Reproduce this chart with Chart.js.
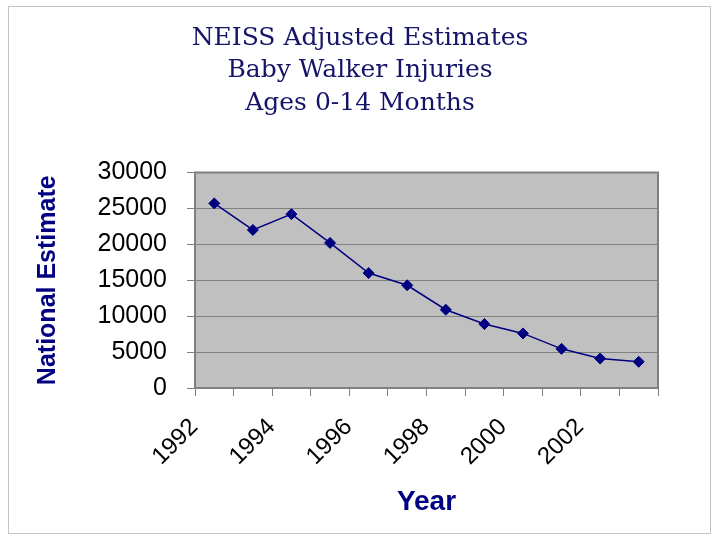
<!DOCTYPE html>
<html>
<head>
<meta charset="utf-8">
<title>Baby Walker Injuries</title>
<script src="https://cdn.jsdelivr.net/npm/chart.js@4"></script>
<style>
  body { margin: 0; background: #fff; }
  canvas { display: block; }
</style>
</head>
<body>
<canvas id="chart" width="720" height="540"></canvas>
<script>
const years = ["1992", "1993", "1994", "1995", "1996", "1997", "1998", "1999", "2000", "2001", "2002", "2003"];
const estimates = [25700, 22000, 24200, 20200, 16000, 14300, 10900, 8900, 7600, 5450, 4100, 3650];
const shownYears = ["1992", "1994", "1996", "1998", "2000", "2002"];
const titleLines = ["NEISS Adjusted Estimates", "Baby Walker Injuries", "Ages 0-14 Months"];

const navy = "#000080";
const gridGray = "#808080";

// grey plot area, its frame and the thin slide border
const plotBackground = {
  id: "plotBackground",
  beforeDraw(chart) {
    const { ctx, chartArea: { left, top, width, height } } = chart;
    ctx.save();
    ctx.fillStyle = "#fff";
    ctx.fillRect(0, 0, chart.width, chart.height);
    ctx.strokeStyle = "#c4c4c4";
    ctx.lineWidth = 1;
    ctx.strokeRect(8.5, 6.5, 702, 527);
    ctx.fillStyle = "#c0c0c0";
    ctx.fillRect(left, top, width, height);
    ctx.restore();
  },
  beforeDatasetsDraw(chart) {
    const { ctx, chartArea: { left, top, width, height } } = chart;
    ctx.save();
    ctx.strokeStyle = gridGray;
    ctx.lineWidth = 2;
    ctx.strokeRect(left, top, width, height);
    ctx.restore();
  },
};

new Chart(document.getElementById("chart"), {
  type: "line",
  data: {
    labels: years,
    datasets: [
      {
        label: "National Estimate",
        data: estimates,
        borderColor: navy,
        backgroundColor: navy,
        borderWidth: 1.5,
        pointStyle: "rectRot",
        pointRadius: 5.5,
        pointBorderWidth: 1,
        tension: 0,
      },
    ],
  },
  options: {
    responsive: false,
    animation: false,
    layout: {
      padding: { left: 8, right: 8, top: 0, bottom: 8 },
    },
    plugins: {
      legend: { display: false },
      tooltip: { enabled: false },
      title: {
        display: true,
        text: titleLines,
        color: "#141468",
        font: { family: "'DejaVu Serif', serif", size: 25, weight: "normal", lineHeight: 1.3 },
        padding: { top: 22, bottom: 53 },
      },
    },
    scales: {
      x: {
        offset: true,
        afterFit: (scale) => {
          scale.height = 144;
        },
        grid: {
          offset: true,
          drawOnChartArea: false,
          color: gridGray,
          tickLength: 8,
        },
        border: { color: gridGray, width: 1.5 },
        ticks: {
          autoSkip: false,
          maxRotation: 45,
          minRotation: 45,
          labelOffset: -20,
          padding: 17,
          color: "#000",
          font: { family: "'Liberation Sans', Arial, sans-serif", size: 24 },
          callback: function (value) {
            const label = this.getLabelForValue(value);
            return shownYears.includes(label) ? label : "";
          },
        },
        title: {
          display: true,
          text: "Year",
          color: navy,
          font: { family: "'Liberation Sans', Arial, sans-serif", size: 28, weight: "bold" },
          padding: { top: 0, bottom: 13 },
        },
      },
      y: {
        min: 0,
        max: 30000,
        afterFit: (scale) => {
          scale.width = 187;
        },
        grid: {
          color: gridGray,
          tickLength: 8,
        },
        border: { color: gridGray, width: 1.5 },
        ticks: {
          stepSize: 5000,
          padding: 20,
          color: "#000",
          font: { family: "'Liberation Sans', Arial, sans-serif", size: 25 },
          callback: (value) => String(value),
        },
        title: {
          display: true,
          text: "National Estimate",
          color: navy,
          font: { family: "'Liberation Sans', Arial, sans-serif", size: 25, weight: "bold" },
          padding: { top: 25, bottom: 0 },
        },
      },
      // empty right margin so the title stays centred on the slide
      rightMargin: {
        position: "right",
        afterFit: (scale) => {
          scale.width = 54;
        },
        grid: { display: false },
        border: { display: false },
        ticks: { display: false },
      },
    },
  },
  plugins: [plotBackground],
});
</script>
</body>
</html>
